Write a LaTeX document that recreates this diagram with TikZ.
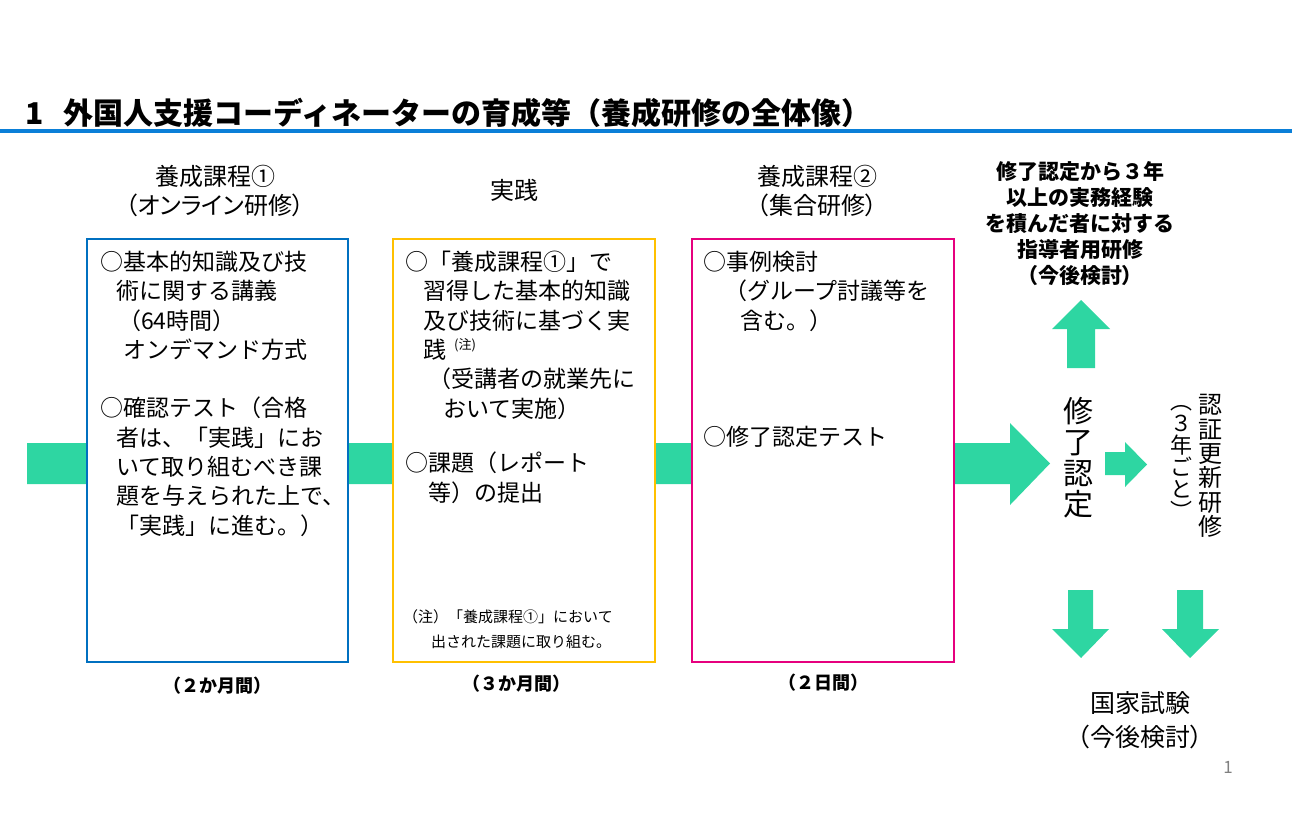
\documentclass[tikz,border=0pt]{standalone}
\usepackage{fontspec}
\setmainfont{Noto Sans CJK JP}
\newfontfamily\jpprop[RawFeature=+palt]{Noto Sans CJK JP}
\usetikzlibrary{positioning}
\definecolor{bandgreen}{RGB}{46,214,162}
\definecolor{titleblue}{RGB}{10,127,216}
\definecolor{boxblue}{RGB}{0,112,192}
\definecolor{boxgold}{RGB}{255,192,0}
\definecolor{boxpink}{RGB}{230,0,126}
\tikzset{
  course/.style={draw, line width=2pt, fill=white,
                 minimum width=261pt, minimum height=423pt, inner sep=0},
  bodytext/.style={anchor=north west, inner sep=0, align=left,
                   font=\fontsize{23}{29.3}\selectfont},
  heading/.style={inner sep=0, align=center,
                  font=\jpprop\fontsize{24}{29}\selectfont},
  spanlabel/.style={inner sep=0, font=\bfseries\fontsize{18}{18}\selectfont},
  fatarrow/.style={fill=bandgreen, draw=none}
}

\begin{document}
\begin{tikzpicture}[x=1pt, y=-1pt]
  \useasboundingbox (0,0) rectangle (1292,820);
  % title and rule
  \node[anchor=base west, inner sep=0, font=\bfseries\fontsize{30}{30}\selectfont] (title) at (25,124)
    {1\hspace{20pt}外国人支援コーディネーターの育成等（養成研修の全体像）};
  \fill[titleblue] (0,129) rectangle (1292,133);
  % green band behind the boxes
  \path[fatarrow] (27,443) -- (1010,443) -- (1010,423) -- (1050,463.5)
    -- (1010,505) -- (1010,484) -- (27,484) -- cycle;
  % three course boxes
  \node[course, draw=boxblue] (b1) at (217.5,450.5) {};
  \node[course, draw=boxgold, minimum width=262pt] (b2) at (524,450.5) {};
  \node[course, draw=boxpink, minimum width=262pt] (b3) at (823,450.5) {};
  % headings
  \node[heading] (h1) at (215,190.5) {養成課程①\\（オンライン研修）};
  \node[heading] (h2) at (514,190) {実践};
  \node[heading] (h3) at (817,190.5) {養成課程②\\（集合研修）};
  % box 1
  \node[bodytext] (b1a) at (100,251) {○基本的知識及び技\\
    \hspace*{16pt}術に関する講義\\
    \hspace*{18pt}（64時間）\\
    \hspace*{23pt}オンデマンド方式};
  \node[bodytext] (b1b) at (100,397) {○確認テスト（合格\\
    \hspace*{16pt}者は、「実践」にお\\
    \hspace*{16pt}いて取り組むべき課\\
    \hspace*{16pt}題を与えられた上で、\\
    \hspace*{16pt}「実践」に進む。）};
  % box 2
  \node[bodytext] (b2a) at (405,251) {○「養成課程①」で\\
    \hspace*{18pt}習得した基本的知識\\
    \hspace*{18pt}及び技術に基づく実\\
    \hspace*{18pt}践{\fontsize{13}{13}\selectfont\raisebox{9pt}{\hspace{8pt}(注)}}\\
    \hspace*{23pt}（受講者の就業先に\\
    \hspace*{38pt}おいて実施）};
  \node[bodytext] (b2b) at (405,452) {○課題（レポート\\
    \hspace*{23pt}等）の提出};
  \node[bodytext, font=\fontsize{15}{25}\selectfont] (note) at (403,609)
    {（注）「養成課程①」において\\
    \hspace*{28pt}出された課題に取り組む。};
  % box 3
  \node[bodytext] (b3a) at (703,251) {○事例検討\\
    \hspace*{21pt}（グループ討議等を\\
    \hspace*{37pt}含む。）};
  \node[bodytext] (b3b) at (703,426) {○修了認定テスト};
  % durations
  \node[spanlabel, below=14pt of b1] (d1) {（２か月間）};
  \node[spanlabel, below=12pt of b2, xshift=-8pt] (d2) {（３か月間）};
  \node[spanlabel, below=11pt of b3] (d3) {（２日間）};
  % right side
  \node[inner sep=0, align=center, font=\bfseries\fontsize{21}{26}\selectfont] (lead) at (1080,224)
    {修了認定から３年\\以上の実務経験\\を積んだ者に対する\\指導者用研修\\{\jpprop（今後検討）}};
  \node[inner sep=0, align=center, font=\fontsize{30}{31}\selectfont] (cert) at (1078,458)
    {修\\了\\認\\定};
  \node[inner sep=0, align=center, font=\fontsize{22}{22}\selectfont] (every) at (1181,462)
    {︵\\３\\年\\ご\\と\\︶};
  \node[inner sep=0, align=center, font=\fontsize{24}{24.4}\selectfont] (renew) at (1210,466)
    {認\\証\\更\\新\\研\\修};
  \node[inner sep=0, align=center, font=\jpprop\fontsize{25}{34}\selectfont] (exam) at (1140,720)
    {国家試験\\（今後検討）};
  \node[inner sep=0, text=gray, font=\fontsize{17}{17}\selectfont] (page) at (1228,767) {1};
  % block arrows
  \path[fatarrow] (1105,452) -- (1125,452) -- (1125,442) -- (1147,464.5)
    -- (1125,487) -- (1125,475) -- (1105,475) -- cycle;
  \path[fatarrow] (1067,368) -- (1067,329) -- (1052,329) -- (1081,300)
    -- (1110,329) -- (1095,329) -- (1095,368) -- cycle;
  \path[fatarrow] (1068,590) -- (1093,590) -- (1093,629) -- (1109,629)
    -- (1081,658) -- (1052,629) -- (1068,629) -- cycle;
  \path[fatarrow] (1177,590) -- (1203,590) -- (1203,629) -- (1219,629)
    -- (1190,658) -- (1162,629) -- (1177,629) -- cycle;
\end{tikzpicture}
\end{document}
